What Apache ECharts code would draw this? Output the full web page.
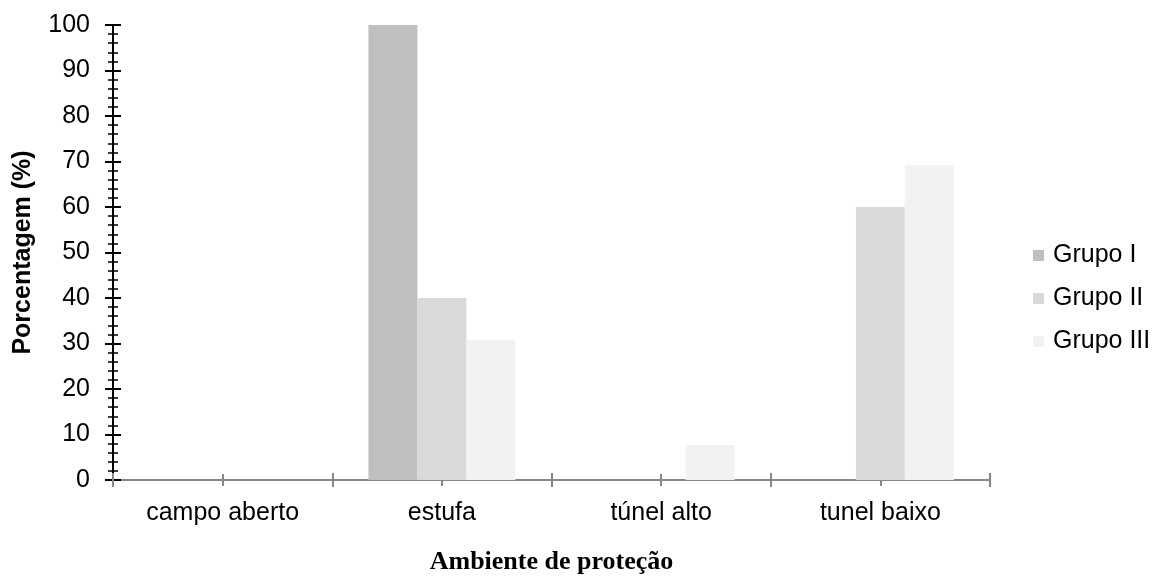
<!DOCTYPE html>
<html><head><meta charset="utf-8">
<script src="https://cdn.jsdelivr.net/npm/echarts@6/dist/echarts.min.js"></script>
<style>html,body{margin:0;padding:0;background:#fff}#c{width:1154px;height:576px}</style>
</head><body><div id="c"></div>
<script>
const categories = ['campo aberto', 'estufa', 'túnel alto', 'tunel baixo'];
const seriesNames = ['Grupo I', 'Grupo II', 'Grupo III'];
const grupoI = [0, 100, 0, 0];
const grupoII = [0, 40, 0, 60];
const grupoIII = [0, 30.8, 7.7, 69.2];
const colors = ['#bfbfbf', '#d9d9d9', '#f2f2f2'];

const chart = echarts.init(document.getElementById('c'));
const font = 'Liberation Sans, Arial, sans-serif';
const baseX = {
  type: 'category', data: categories, position: 'bottom', gridIndex: 0,
  axisLine: {show: false}, axisLabel: {show: false}, splitLine: {show: false}
};
chart.setOption({
  animation: false,
  color: colors,
  grid: {left: 113, right: 164, top: 25, bottom: 96, containLabel: false, outerBoundsMode: 'none'},
  legend: {
    orient: 'vertical', left: 1028, top: 238, itemWidth: 11, itemHeight: 11, itemGap: 18,
    icon: 'rect',
    textStyle: {fontFamily: font, fontSize: 25, color: '#000', padding: [0, 0, 0, 4]},
    data: seriesNames
  },
  xAxis: [
    Object.assign({}, baseX, {
      axisLine: {show: true, lineStyle: {color: '#888', width: 2}},
      axisTick: {show: true, interval: 0, length: 7, lineStyle: {color: '#888', width: 2}},
      axisLabel: {show: true, interval: 0, margin: 21, fontFamily: font, fontSize: 25, color: '#000'},
      name: 'Ambiente de proteção', nameLocation: 'middle', nameGap: 69,
      nameTextStyle: {fontFamily: 'Liberation Serif, Times New Roman, serif', fontWeight: 'bold', fontSize: 26, color: '#000'}
    }),
    Object.assign({}, baseX, {
      axisTick: {show: true, interval: 0, inside: true, length: 7, lineStyle: {color: '#888', width: 2}}
    }),
    Object.assign({}, baseX, {
      axisTick: {show: true, interval: 0, alignWithLabel: true, length: 6, lineStyle: {color: '#888', width: 2}}
    }),
    Object.assign({}, baseX, {
      axisTick: {show: true, interval: 0, alignWithLabel: true, inside: true, length: 6, lineStyle: {color: '#888', width: 2}}
    })
  ],
  yAxis: [
    {
      type: 'value', min: 0, max: 100, interval: 10,
      axisLine: {show: true, lineStyle: {color: '#000', width: 2}},
      axisTick: {show: true, length: 8, lineStyle: {color: '#000', width: 2}},
      minorTick: {show: true, splitNumber: 5, length: 5, lineStyle: {color: '#000', width: 1.5}},
      splitLine: {show: false},
      axisLabel: {margin: 23, fontFamily: font, fontSize: 25, color: '#000'},
      name: 'Porcentagem (%)', nameLocation: 'middle', nameGap: 77, nameRotate: 90,
      nameTextStyle: {fontFamily: font, fontWeight: 'bold', fontSize: 25, color: '#000'}
    },
    {
      type: 'value', min: 0, max: 100, interval: 10, position: 'left',
      axisLine: {show: false},
      axisTick: {show: true, inside: true, length: 8, lineStyle: {color: '#000', width: 2}},
      minorTick: {show: true, splitNumber: 5, length: 5, lineStyle: {color: '#000', width: 1.5}},
      splitLine: {show: false},
      axisLabel: {show: false}
    }
  ],
  series: [
    {name: seriesNames[0], type: 'bar', data: grupoI, barGap: '0%', barCategoryGap: '33%', itemStyle: {color: colors[0]}},
    {name: seriesNames[1], type: 'bar', data: grupoII, barGap: '0%', barCategoryGap: '33%', itemStyle: {color: colors[1]}},
    {name: seriesNames[2], type: 'bar', data: grupoIII, barGap: '0%', barCategoryGap: '33%', itemStyle: {color: colors[2]}}
  ]
});
</script></body></html>
